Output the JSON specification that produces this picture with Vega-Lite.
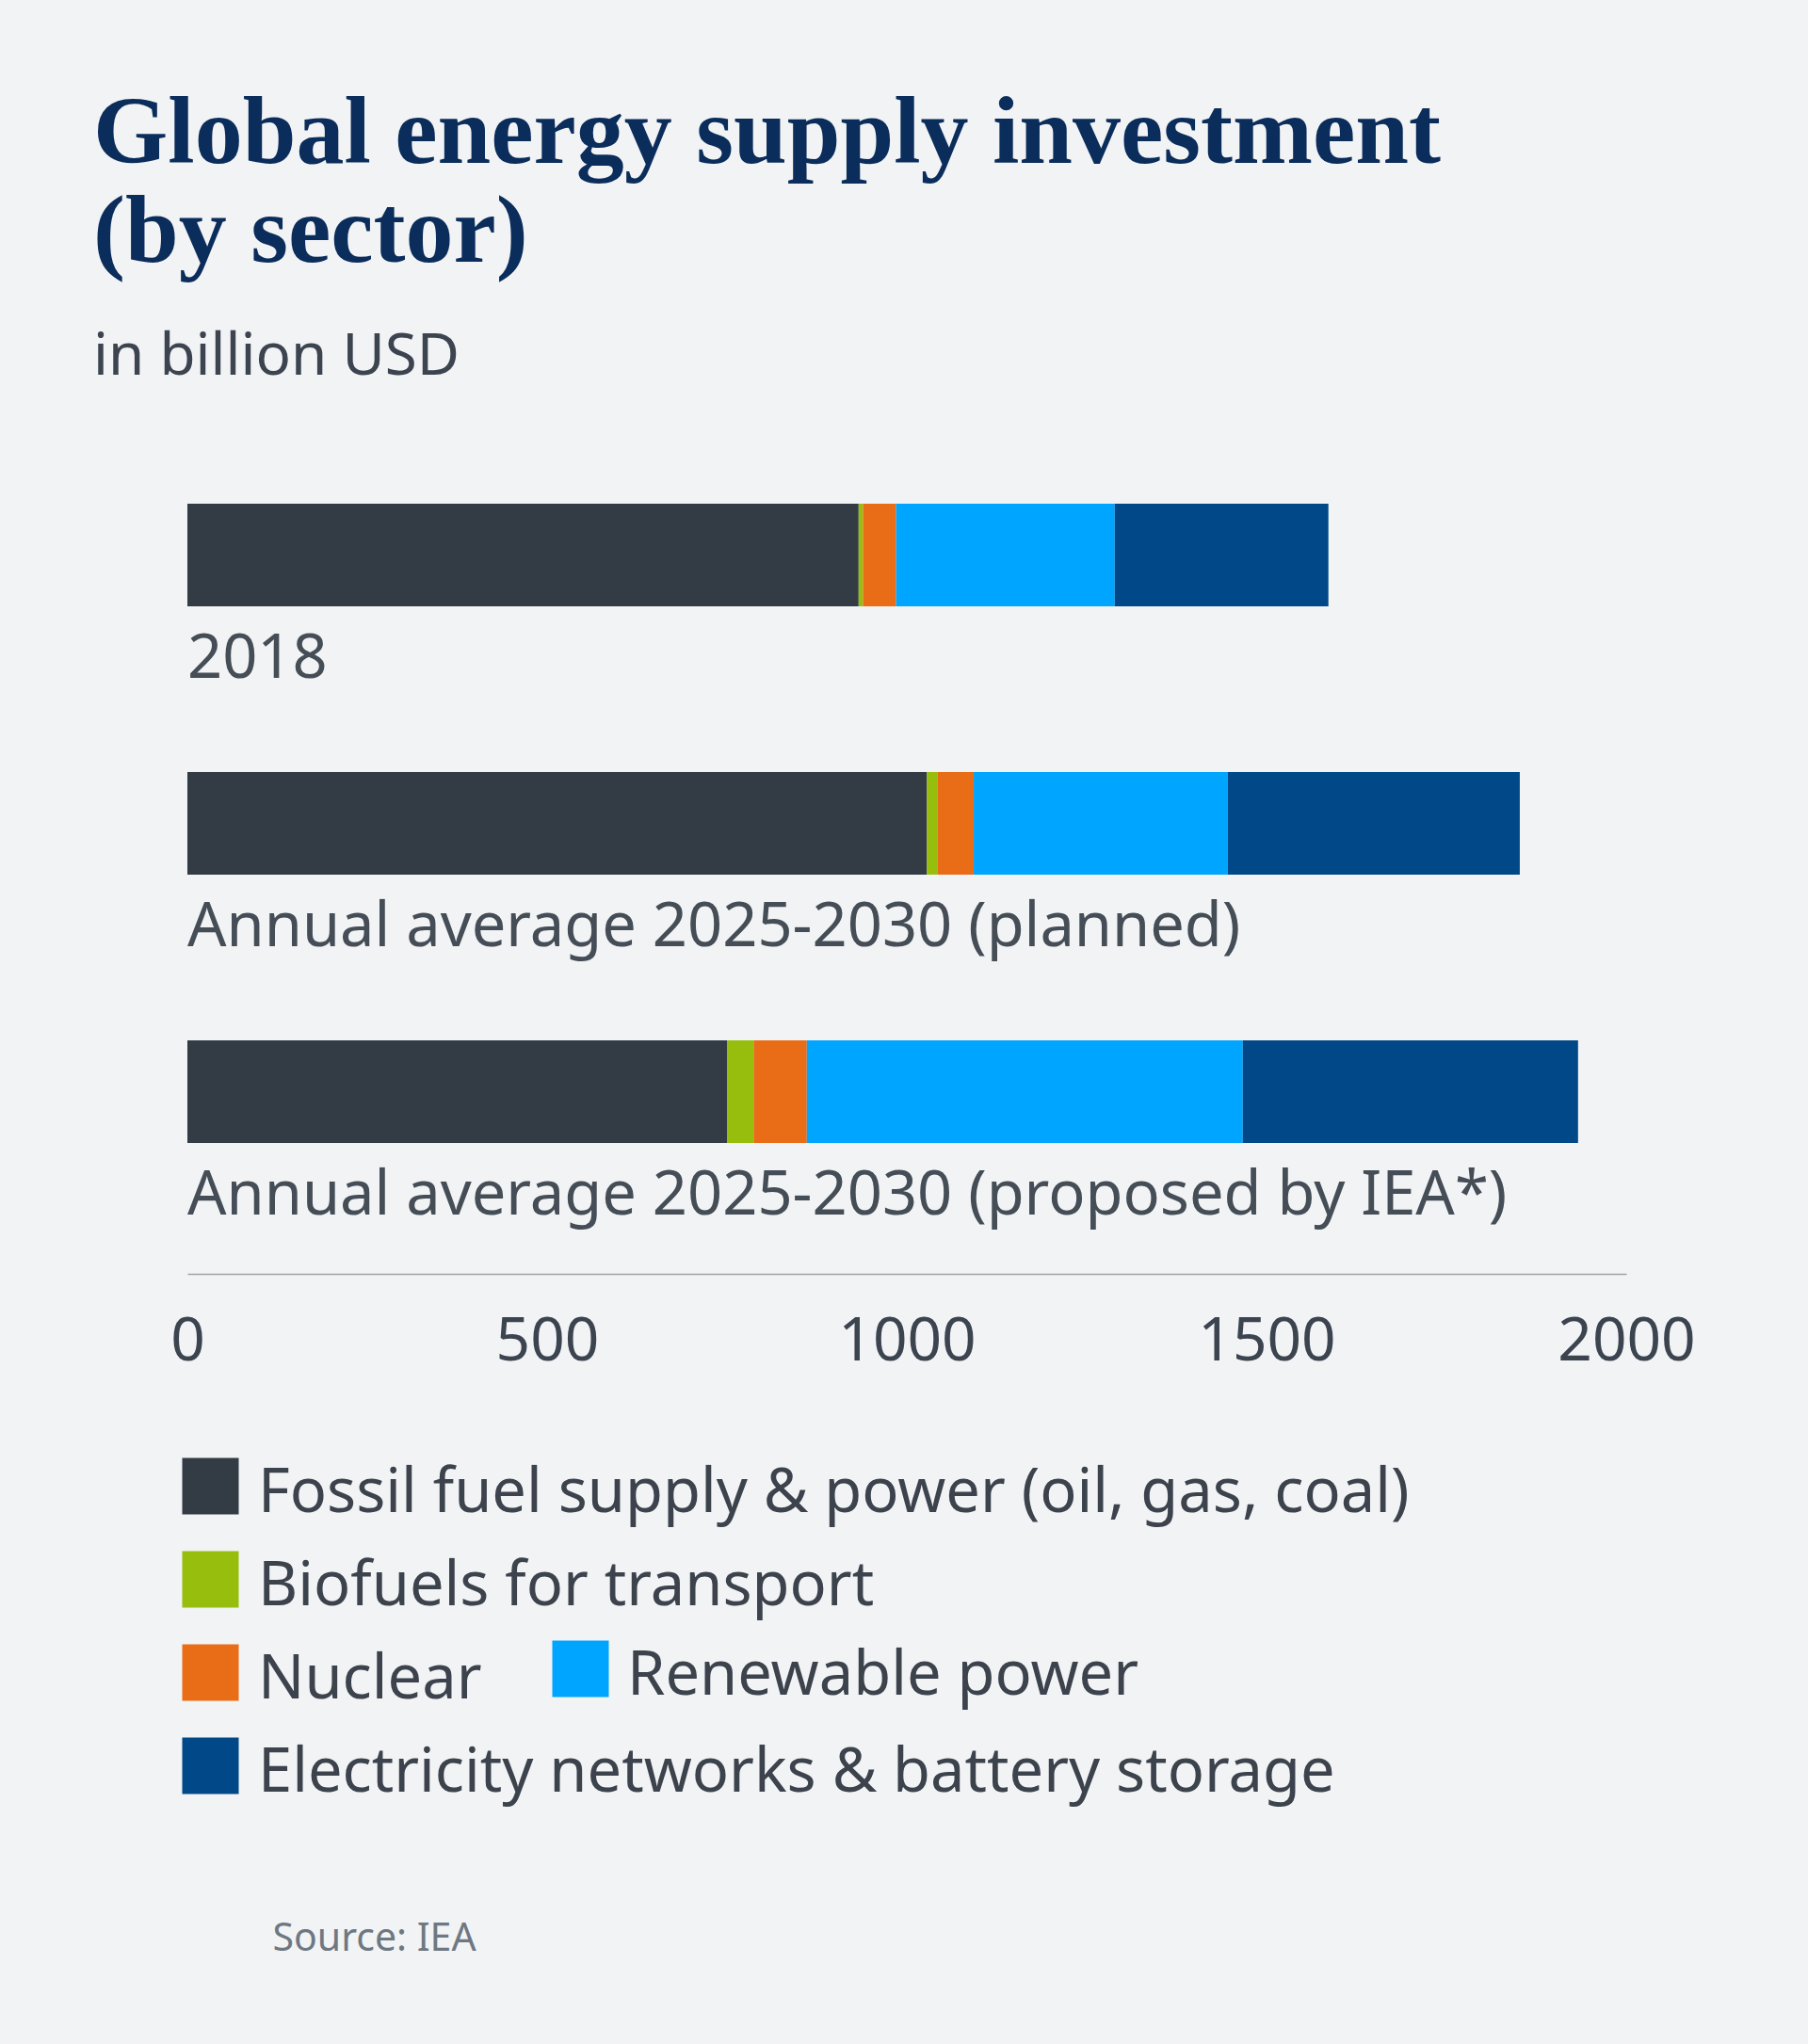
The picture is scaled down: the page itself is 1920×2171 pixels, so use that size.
{
  "$schema": "https://vega.github.io/schema/vega-lite/v6.json",
  "width": 1528,
  "height": 855,
  "autosize": {"type": "none"},
  "padding": {"left": 199, "top": 447, "right": 193, "bottom": 869},
  "background": "#f2f3f5",
  "config": {"view": {"stroke": null}, "font": "Noto Sans"},
  "title": {
    "text": ["Global energy supply investment", "(by sector)"],
    "subtitle": "in billion USD",
    "anchor": "start",
    "frame": "group",
    "dx": -100,
    "font": "Liberation Serif",
    "fontSize": 102,
    "fontWeight": "bold",
    "color": "#0b2d5b",
    "lineHeight": 105,
    "subtitleFont": "Noto Sans",
    "subtitleFontSize": 62,
    "subtitleColor": "#3c4450",
    "subtitlePadding": 50,
    "offset": 36
  },
  "datasets": {
    "invest": [
      {"period": "2018", "sector": "Fossil fuel supply & power (oil, gas, coal)", "value": 933},
      {"period": "2018", "sector": "Biofuels for transport", "value": 6},
      {"period": "2018", "sector": "Nuclear", "value": 46},
      {"period": "2018", "sector": "Renewable power", "value": 304},
      {"period": "2018", "sector": "Electricity networks & battery storage", "value": 297},
      {"period": "Annual average 2025-2030 (planned)", "sector": "Fossil fuel supply & power (oil, gas, coal)", "value": 1028},
      {"period": "Annual average 2025-2030 (planned)", "sector": "Biofuels for transport", "value": 15},
      {"period": "Annual average 2025-2030 (planned)", "sector": "Nuclear", "value": 50},
      {"period": "Annual average 2025-2030 (planned)", "sector": "Renewable power", "value": 353},
      {"period": "Annual average 2025-2030 (planned)", "sector": "Electricity networks & battery storage", "value": 406},
      {"period": "Annual average 2025-2030 (proposed by IEA*)", "sector": "Fossil fuel supply & power (oil, gas, coal)", "value": 750},
      {"period": "Annual average 2025-2030 (proposed by IEA*)", "sector": "Biofuels for transport", "value": 37},
      {"period": "Annual average 2025-2030 (proposed by IEA*)", "sector": "Nuclear", "value": 74},
      {"period": "Annual average 2025-2030 (proposed by IEA*)", "sector": "Renewable power", "value": 606},
      {"period": "Annual average 2025-2030 (proposed by IEA*)", "sector": "Electricity networks & battery storage", "value": 466}
    ],
    "rows": [
      {"period": "2018"},
      {"period": "Annual average 2025-2030 (planned)"},
      {"period": "Annual average 2025-2030 (proposed by IEA*)"}
    ]
  },
  "layer": [
    {
      "data": {"name": "invest"},
      "transform": [
        {"calculate": "indexof(['Fossil fuel supply & power (oil, gas, coal)', 'Biofuels for transport', 'Nuclear', 'Renewable power', 'Electricity networks & battery storage'], datum.sector)", "as": "stackOrder"}
      ],
      "mark": {"type": "bar", "size": 109, "strokeWidth": 0},
      "encoding": {
        "y": {
          "field": "period",
          "type": "nominal",
          "scale": {
            "domain": ["2018", "Annual average 2025-2030 (planned)", "Annual average 2025-2030 (proposed by IEA*)"],
            "paddingInner": 0,
            "paddingOuter": 0
          },
          "axis": null
        },
        "x": {
          "field": "value",
          "type": "quantitative",
          "stack": "zero",
          "scale": {"domain": [0, 2000], "nice": false},
          "axis": {
            "values": [0, 500, 1000, 1500, 2000],
            "format": "d",
            "offset": 51,
            "ticks": false,
            "grid": false,
            "domainColor": "#9ea3ab",
            "domainWidth": 1.5,
            "labelFont": "Noto Sans",
            "labelFontSize": 64,
            "labelColor": "#3c4450",
            "labelPadding": 40,
            "labelFlush": false,
            "title": "Source: IEA",
            "titleX": 90,
            "titleY": 718,
            "titleAlign": "left",
            "titleBaseline": "alphabetic",
            "titleFont": "Noto Sans",
            "titleFontSize": 41,
            "titleFontWeight": "normal",
            "titleColor": "#6e7882"
          }
        },
        "order": {"field": "stackOrder", "type": "quantitative", "sort": "ascending"},
        "color": {
          "field": "sector",
          "type": "nominal",
          "sort": ["Fossil fuel supply & power (oil, gas, coal)", "Biofuels for transport", "Nuclear", "Renewable power", "Electricity networks & battery storage"],
          "scale": {
            "domain": ["Fossil fuel supply & power (oil, gas, coal)", "Biofuels for transport", "Nuclear", "Renewable power", "Electricity networks & battery storage"],
            "range": ["#333c45", "#97be0d", "#e96d16", "#00a5ff", "#004888"]
          },
          "legend": {
            "title": null,
            "orient": "none",
            "legendX": -8,
            "legendY": 1099,
            "direction": "vertical",
            "columns": 1,
            "padding": 0,
            "values": ["Fossil fuel supply & power (oil, gas, coal)", "Biofuels for transport", "Nuclear", "Electricity networks & battery storage"],
            "symbolType": "square",
            "symbolSize": 3600,
            "symbolStrokeWidth": 0,
            "symbolOpacity": 1,
            "labelFont": "Noto Sans",
            "labelFontSize": 65,
            "labelColor": "#3c434d",
            "labelOffset": 18,
            "labelLimit": 2000,
            "rowPadding": 26,
            "encode": {"labels": {"update": {"dy": {"value": 7}}}}
          }
        },
        "stroke": {
          "field": "sector",
          "type": "nominal",
          "scale": {
            "domain": ["Renewable power", "Fossil fuel supply & power (oil, gas, coal)", "Biofuels for transport", "Nuclear", "Electricity networks & battery storage"],
            "range": ["#00a5ff", "#333c45", "#97be0d", "#e96d16", "#004888"]
          },
          "legend": {
            "title": null,
            "orient": "none",
            "legendX": 385,
            "legendY": 1293,
            "direction": "vertical",
            "padding": 0,
            "values": ["Renewable power"],
            "symbolType": "square",
            "symbolSize": 3600,
            "symbolStrokeWidth": 0,
            "symbolFillColor": "#00a5ff",
            "symbolOpacity": 1,
            "labelFont": "Noto Sans",
            "labelFontSize": 65,
            "labelColor": "#3c434d",
            "labelOffset": 17,
            "labelLimit": 2000,
            "encode": {
              "symbols": {"update": {"fill": {"value": "#00a5ff"}, "strokeWidth": {"value": 0}}},
              "labels": {"update": {"dy": {"value": 7}}}
            }
          }
        }
      }
    },
    {
      "data": {"name": "rows"},
      "mark": {"type": "text", "align": "left", "baseline": "alphabetic", "dy": 130, "fontSize": 65, "font": "Noto Sans", "color": "#454d56"},
      "encoding": {
        "y": {
          "field": "period",
          "type": "nominal",
          "scale": {
            "domain": ["2018", "Annual average 2025-2030 (planned)", "Annual average 2025-2030 (proposed by IEA*)"]
          }
        },
        "x": {"datum": 0, "type": "quantitative"},
        "text": {"field": "period"}
      }
    }
  ]
}
